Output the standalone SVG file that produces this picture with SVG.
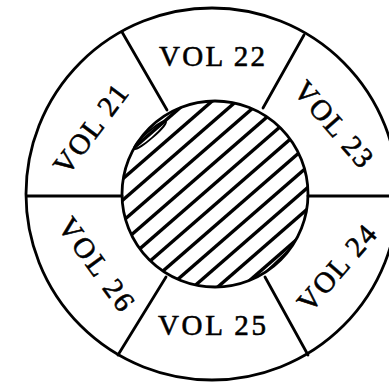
<svg xmlns="http://www.w3.org/2000/svg" width="389" height="384" viewBox="0 0 389 384">
  <style>
    .ln { fill: none; stroke: #000; stroke-width: 2.8; stroke-linecap: round; }
    .hatch { stroke: #000; stroke-width: 3.4; }
    .lbl { font-family: 'Liberation Serif', 'Times New Roman', serif; font-size: 29px; fill: #000; stroke: #000; stroke-width: 0.6; text-anchor: middle; }
  </style>
  <defs>
    <clipPath id="hubClip">
      <circle cx="215" cy="194" r="93"/>
    </clipPath>
  </defs>
  <rect width="389" height="384" fill="#fff"/>
  <g id="ring">
    <circle class="ln" cx="212" cy="194" r="186"/>
  </g>
  <g id="spokes">
    <line class="ln" x1="27" y1="196" x2="122" y2="196"/>
    <line class="ln" x1="308" y1="196" x2="389" y2="196"/>
    <line class="ln" x1="122" y1="32" x2="167" y2="110"/>
    <line class="ln" x1="304" y1="35" x2="263" y2="108"/>
    <line class="ln" x1="166" y1="277" x2="118" y2="355"/>
    <line class="ln" x1="265" y1="277" x2="308" y2="355"/>
  </g>
  <g id="hub">
    <g clip-path="url(#hubClip)">
      <g transform="rotate(-41 215 194)">
        <line class="hatch" x1="100" y1="106" x2="330" y2="106"/>
        <line class="hatch" x1="100" y1="122" x2="330" y2="122"/>
        <line class="hatch" x1="100" y1="138" x2="330" y2="138"/>
        <line class="hatch" x1="100" y1="154" x2="330" y2="154"/>
        <line class="hatch" x1="100" y1="170" x2="330" y2="170"/>
        <line class="hatch" x1="100" y1="186" x2="330" y2="186"/>
        <line class="hatch" x1="100" y1="202" x2="330" y2="202"/>
        <line class="hatch" x1="100" y1="218" x2="330" y2="218"/>
        <line class="hatch" x1="100" y1="234" x2="330" y2="234"/>
        <line class="hatch" x1="100" y1="250" x2="330" y2="250"/>
        <line class="hatch" x1="100" y1="266" x2="330" y2="266"/>
        <line class="hatch" x1="100" y1="282" x2="330" y2="282"/>
      </g>
      <path d="M256 280 L298 240 L312 228 L312 292 Z" fill="#000"/>
    </g>
    <ellipse cx="150" cy="135" rx="21" ry="3.5" transform="rotate(-41 150 135)" fill="none" stroke="#000" stroke-width="1.8"/>
    <circle class="ln" cx="215" cy="194" r="93" stroke-width="3.2"/>
  </g>
  <g id="vol21"><text class="lbl" transform="translate(90.5 129) rotate(-53)" y="10" textLength="104" lengthAdjust="spacing">VOL 21</text></g>
  <g id="vol22"><text class="lbl" x="212" y="66" textLength="106" lengthAdjust="spacing">VOL 22</text></g>
  <g id="vol23"><text class="lbl" transform="translate(334 124) rotate(49)" y="10" textLength="104" lengthAdjust="spacing">VOL 23</text></g>
  <g id="vol24"><text class="lbl" transform="translate(336.5 268) rotate(-49)" y="10" textLength="104" lengthAdjust="spacing">VOL 24</text></g>
  <g id="vol25"><text class="lbl" x="212" y="335" textLength="108" lengthAdjust="spacing">VOL 25</text></g>
  <g id="vol26"><text class="lbl" transform="translate(96.5 264) rotate(54)" y="10" textLength="108" lengthAdjust="spacing">VOL 26</text></g>
</svg>
